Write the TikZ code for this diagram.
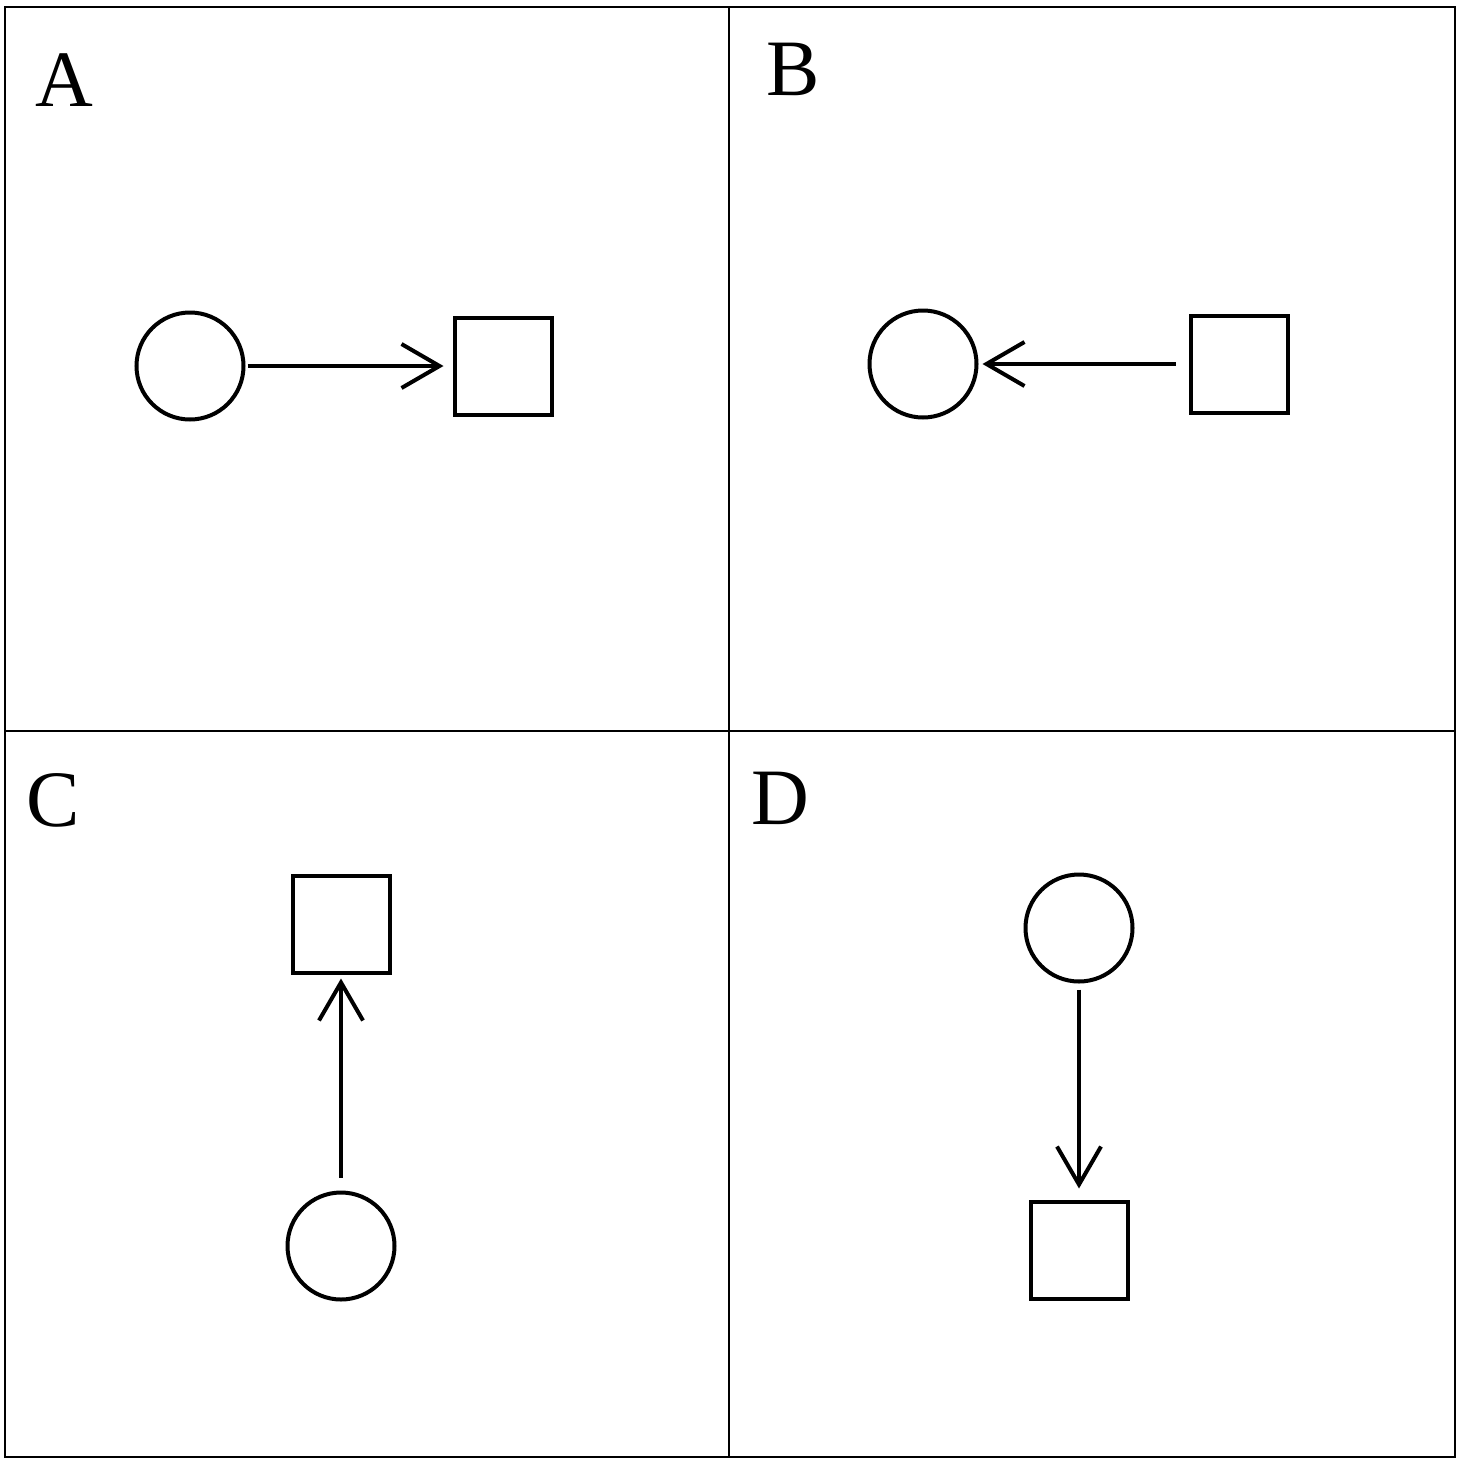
\documentclass[tikz,border=0pt]{standalone}
\usepackage{fontspec}
\setmainfont{Liberation Serif}
\usetikzlibrary{arrows.meta}
\begin{document}
\begin{tikzpicture}[x=1pt,y=-1pt,
  frame/.style={line width=1.3pt},
  circ/.style={circle,draw,line width=4pt,minimum size=107pt,inner sep=0pt},
  sq/.style={rectangle,draw,line width=4pt,minimum size=97pt,inner sep=0pt},
  conn/.style={line width=4pt,-{Straight Barb[length=38pt,width=44pt]}},
  lab/.style={inner sep=0pt,font=\fontsize{80}{88}\selectfont}]
\useasboundingbox (0,0) rectangle (1460,1462);
\fill[white] (0,0) rectangle (1460,1462);
% frame
\draw[frame] (5,7) rectangle (1455,1457);
\draw[frame] (729,7) -- (729,1457);
\draw[frame] (5,731) -- (1455,731);
% labels
\node[lab] (la) at (64,80) {A};
\node[lab] (lb) at (793,69) {B};
\node[lab] (lc) at (53,800) {C};
\node[lab] (ld) at (780,798) {D};
% Panel A
\node[circ] (ca) at (190,366) {};
\node[sq] (sa) at (503,366) {};
\draw[conn, shorten <=2pt, shorten >=9pt] (ca.east) -- (sa.west);
% Panel B
\node[circ] (cb) at (923,364) {};
\node[sq] (sb) at (1239,364) {};
\draw[conn, shorten <=13pt, shorten >=4pt] (sb.west) -- (cb.east);
% Panel C
\node[sq] (sc) at (341,924) {};
\node[circ] (cc) at (341,1246) {};
\draw[conn, shorten <=13pt, shorten >=4pt] (cc.north) -- (sc.south);
% Panel D
\node[circ] (cd) at (1079,928) {};
\node[sq] (sd) at (1079,1250) {};
\draw[conn, shorten <=6pt, shorten >=11pt] (cd.south) -- (sd.north);
\end{tikzpicture}
\end{document}
